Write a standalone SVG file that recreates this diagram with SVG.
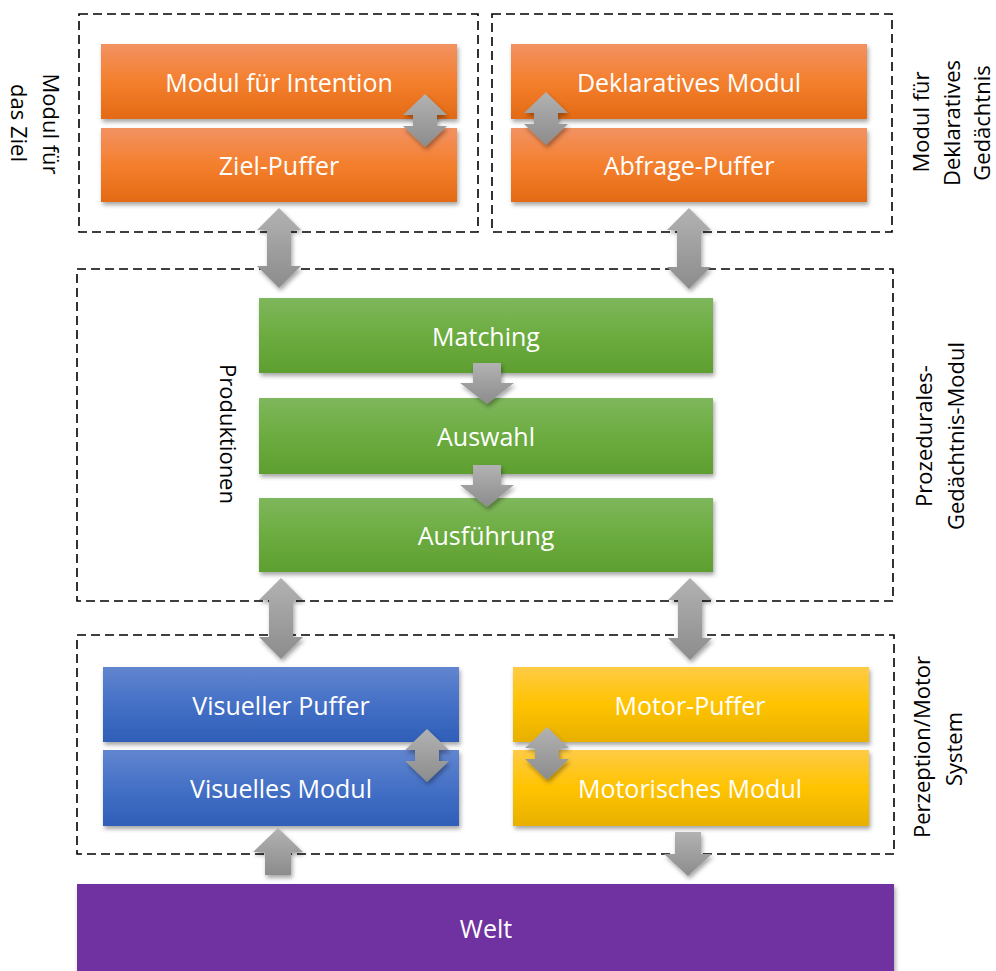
<svg xmlns="http://www.w3.org/2000/svg" width="996" height="971" viewBox="0 0 996 971">
<defs>
<linearGradient id="gOrange" x1="0" y1="0" x2="0" y2="1"><stop offset="0" stop-color="#F29262"/><stop offset="0.5" stop-color="#F47F2D"/><stop offset="1" stop-color="#E36A14"/></linearGradient>
<linearGradient id="gGreen" x1="0" y1="0" x2="0" y2="1"><stop offset="0" stop-color="#7FB75C"/><stop offset="0.5" stop-color="#6CAC40"/><stop offset="1" stop-color="#5E9F30"/></linearGradient>
<linearGradient id="gBlue" x1="0" y1="0" x2="0" y2="1"><stop offset="0" stop-color="#6285CF"/><stop offset="0.5" stop-color="#4470C6"/><stop offset="1" stop-color="#2F5FB8"/></linearGradient>
<linearGradient id="gYellow" x1="0" y1="0" x2="0" y2="1"><stop offset="0" stop-color="#FFCB45"/><stop offset="0.5" stop-color="#FFC300"/><stop offset="1" stop-color="#E8B000"/></linearGradient>
<linearGradient id="gArrow" x1="0" y1="0" x2="0" y2="1"><stop offset="0" stop-color="#B2B2B2"/><stop offset="1" stop-color="#8C8C8C"/></linearGradient>
<filter id="shadow" x="-10%" y="-20%" width="120%" height="150%"><feDropShadow dx="1.5" dy="3" stdDeviation="2" flood-color="#000" flood-opacity="0.35"/></filter>
</defs>
<style>
.dash{fill:none;stroke:#000;stroke-width:1.6;stroke-dasharray:9 5}
.box{filter:url(#shadow)}
.or{fill:url(#gOrange)}
.gr{fill:url(#gGreen)}
.bl{fill:url(#gBlue)}
.ye{fill:url(#gYellow)}
.pu{fill:#7030A0}
.arr{fill:url(#gArrow);filter:url(#shadow)}
.t{font-family:"Open Sans","Noto Sans","Liberation Sans",sans-serif;font-size:25px;fill:#fff;text-anchor:middle;dominant-baseline:central}
.lab{font-family:"Open Sans","Noto Sans","Liberation Sans",sans-serif;font-size:22px;fill:#000;text-anchor:middle}
</style>

<g id="containers">
<rect class="dash" x="79" y="14" width="399" height="218"/>
<rect class="dash" x="492" y="14" width="400" height="218"/>
<rect class="dash" x="77" y="269" width="816" height="332"/>
<rect class="dash" x="77" y="635" width="817" height="219"/>
</g>

<g id="labels">
<text class="lab" transform="translate(43,124) rotate(90)">Modul für</text>
<text class="lab" transform="translate(11,123) rotate(90)">das Ziel</text>
<text class="lab" transform="translate(929,122) rotate(-90)">Modul für</text>
<text class="lab" transform="translate(960,123) rotate(-90)">Deklaratives</text>
<text class="lab" transform="translate(990,123) rotate(-90)">Gedächtnis</text>
<text class="lab" transform="translate(220,434) rotate(90)">Produktionen</text>
<text class="lab" transform="translate(932,436) rotate(-90)">Prozedurales-</text>
<text class="lab" transform="translate(964,436) rotate(-90)">Gedächtnis-Modul</text>
<text class="lab" transform="translate(930,747) rotate(-90)">Perzeption/Motor</text>
<text class="lab" transform="translate(962,749) rotate(-90)">System</text>
</g>

<g id="n-intention"><rect class="box or" x="101" y="44" width="356" height="75"/><text class="t" x="279" y="82">Modul für Intention</text></g>
<g id="n-ziel"><rect class="box or" x="101" y="128" width="356" height="74"/><text class="t" x="279" y="165">Ziel-Puffer</text></g>
<g id="n-dekl"><rect class="box or" x="511" y="44" width="356" height="75"/><text class="t" x="689" y="82">Deklaratives Modul</text></g>
<g id="n-abfrage"><rect class="box or" x="511" y="128" width="356" height="74"/><text class="t" x="689" y="165">Abfrage-Puffer</text></g>

<g id="n-matching"><rect class="box gr" x="259" y="298" width="454" height="75"/><text class="t" x="486" y="336">Matching</text></g>
<g id="n-auswahl"><rect class="box gr" x="259" y="398" width="454" height="76"/><text class="t" x="486" y="436">Auswahl</text></g>
<g id="n-ausfuehrung"><rect class="box gr" x="259" y="498" width="454" height="74"/><text class="t" x="486" y="535">Ausführung</text></g>

<g id="n-vispuffer"><rect class="box bl" x="103" y="667" width="356" height="75"/><text class="t" x="281" y="705">Visueller Puffer</text></g>
<g id="n-vismodul"><rect class="box bl" x="103" y="750" width="356" height="76"/><text class="t" x="281" y="788">Visuelles Modul</text></g>
<g id="n-motorpuffer"><rect class="box ye" x="513" y="667" width="356" height="75"/><text class="t" x="690" y="705">Motor-Puffer</text></g>
<g id="n-motormodul"><rect class="box ye" x="513" y="750" width="356" height="76"/><text class="t" x="690" y="788">Motorisches Modul</text></g>

<g id="n-welt"><rect class="box pu" x="77" y="884" width="817" height="90"/><text class="t" x="486" y="928">Welt</text></g>

<g id="connectors">
<path class="arr" d="M279,208 L301,230 L291,230 L291,266 L301,266 L279,288 L257,266 L267,266 L267,230 L257,230 Z"/>
<path class="arr" d="M689,208 L711,230 L701,230 L701,267 L711,267 L689,289 L667,267 L677,267 L677,230 L667,230 Z"/>
<path class="arr" d="M281,578 L303,600 L293,600 L293,637 L303,637 L281,659 L259,637 L269,637 L269,600 L259,600 Z"/>
<path class="arr" d="M690,578 L712,600 L702,600 L702,638 L712,638 L690,660 L668,638 L678,638 L678,600 L668,600 Z"/>
<path class="arr" d="M425,94 L447,115 L437,115 L437,126 L447,126 L425,147 L403,126 L413,126 L413,115 L403,115 Z"/>
<path class="arr" d="M546,92 L568,113 L558,113 L558,124 L568,124 L546,145 L524,124 L534,124 L534,113 L524,113 Z"/>
<path class="arr" d="M427,729 L449,750 L439,750 L439,761 L449,761 L427,782 L405,761 L415,761 L415,750 L405,750 Z"/>
<path class="arr" d="M547,727 L569,748 L559,748 L559,759 L569,759 L547,780 L525,759 L535,759 L535,748 L525,748 Z"/>
<path class="arr" d="M473,363 L501,363 L501,383 L514,383 L487,404 L460,383 L473,383 Z"/>
<path class="arr" d="M473,465 L501,465 L501,485 L514,485 L487,507 L460,485 L473,485 Z"/>
<path class="arr" d="M278,828 L303,852 L291,852 L291,875 L265,875 L265,852 L253,852 Z"/>
<path class="arr" d="M675,832 L701,832 L701,854 L712,854 L688,876 L664,854 L675,854 Z"/>
</g>
</svg>
